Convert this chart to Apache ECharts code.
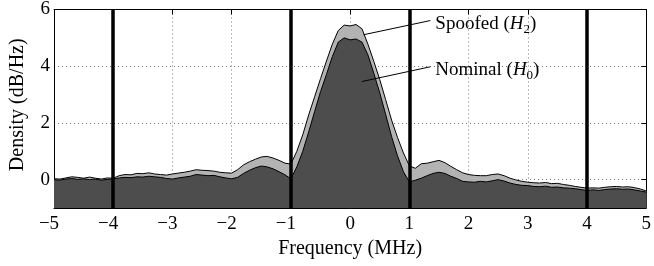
<!DOCTYPE html>
<html>
<head>
<meta charset="utf-8">
<script src="https://cdn.jsdelivr.net/npm/echarts@6/dist/echarts.min.js"></script>
<style>
html, body { margin: 0; padding: 0; background: #fff; }
#chart { width: 654px; height: 266px; }
</style>
</head>
<body>
<div id="chart"></div>
<script>
// frequency grid (MHz)
var freq = [
    -5.0, -4.9, -4.8, -4.7, -4.6, -4.5, -4.4, -4.3, -4.2, -4.1,
    -4.0, -3.9, -3.8, -3.7, -3.6, -3.5, -3.4, -3.3, -3.2, -3.1,
    -3.0, -2.9, -2.8, -2.7, -2.6, -2.5, -2.4, -2.3, -2.2, -2.1,
    -2.0, -1.9, -1.8, -1.7, -1.6, -1.5, -1.4, -1.3, -1.2, -1.1,
    -1.0, -0.9, -0.8, -0.7, -0.6, -0.5, -0.4, -0.3, -0.2, -0.1,
    0.0, 0.1, 0.2, 0.3, 0.4, 0.5, 0.6, 0.7, 0.8, 0.9,
    1.0, 1.1, 1.2, 1.3, 1.4, 1.5, 1.6, 1.7, 1.8, 1.9,
    2.0, 2.1, 2.2, 2.3, 2.4, 2.5, 2.6, 2.7, 2.8, 2.9,
    3.0, 3.1, 3.2, 3.3, 3.4, 3.5, 3.6, 3.7, 3.8, 3.9,
    4.0, 4.1, 4.2, 4.3, 4.4, 4.5, 4.6, 4.7, 4.8, 4.9,
    5.0
];

// Nominal (H0) density, dB/Hz
var nominal = [
    0.00, -0.02, 0.02, 0.04, 0.01, 0.03, 0.00, 0.02, -0.02, 0.01,
    0.02, 0.06, 0.08, 0.07, 0.10, 0.09, 0.12, 0.10, 0.08, 0.04,
    0.02, 0.06, 0.09, 0.12, 0.18, 0.16, 0.14, 0.15, 0.10, 0.06,
    0.03, 0.08, 0.22, 0.33, 0.42, 0.48, 0.45, 0.38, 0.28, 0.17,
    0.03, 0.45, 1.00, 1.68, 2.40, 3.10, 3.71, 4.34, 4.85, 5.00,
    4.93, 4.96, 4.85, 4.40, 3.75, 3.06, 2.30, 1.52, 0.84, 0.28,
    -0.08, -0.02, 0.05, 0.14, 0.22, 0.26, 0.22, 0.12, 0.04, -0.06,
    -0.08, -0.09, -0.06, -0.08, -0.04, 0.00, -0.05, -0.12, -0.17, -0.20,
    -0.21, -0.24, -0.25, -0.23, -0.27, -0.26, -0.29, -0.30, -0.32, -0.35,
    -0.38, -0.36, -0.38, -0.35, -0.33, -0.32, -0.34, -0.33, -0.36, -0.40,
    -0.44
];

// Spoofed (H2) density, dB/Hz
var spoofed = [
    0.03, 0.02, 0.06, 0.10, 0.08, 0.05, 0.09, 0.05, 0.02, 0.06,
    0.05, 0.14, 0.18, 0.17, 0.22, 0.21, 0.24, 0.20, 0.18, 0.16,
    0.20, 0.23, 0.26, 0.30, 0.35, 0.33, 0.32, 0.30, 0.26, 0.24,
    0.23, 0.35, 0.52, 0.63, 0.72, 0.80, 0.82, 0.76, 0.68, 0.58,
    0.55, 1.00, 1.58, 2.28, 2.92, 3.56, 4.18, 4.78, 5.26, 5.45,
    5.42, 5.47, 5.32, 4.78, 4.17, 3.53, 2.82, 2.10, 1.49, 0.94,
    0.49, 0.40, 0.56, 0.58, 0.63, 0.68, 0.60, 0.47, 0.35, 0.24,
    0.18, 0.15, 0.14, 0.14, 0.18, 0.20, 0.14, 0.05, -0.01, -0.06,
    -0.09, -0.11, -0.12, -0.10, -0.14, -0.13, -0.17, -0.20, -0.24, -0.27,
    -0.30, -0.29, -0.30, -0.27, -0.25, -0.24, -0.26, -0.25, -0.28, -0.33,
    -0.40
];

// band edges (MHz)
var bandEdges = [-4, -1, 1, 4];
var yTicks = [0, 2, 4, 6];

// leader lines for the two annotations: [start, end] in data units
var spoofedLeader = [[0.227, 5.11], [1.354, 5.61]];
var nominalLeader = [[0.20, 3.46], [1.354, 3.98]];

var serif = 'Liberation Serif';
var fontSize = 19;

function pairs(xs, ys) {
    var out = [];
    for (var i = 0; i < xs.length; i++) {
        out.push([xs[i], ys[i]]);
    }
    return out;
}

var richText = {
    t: { fontFamily: serif, fontSize: fontSize, color: '#000', lineHeight: 24 },
    i: { fontFamily: serif, fontSize: fontSize, fontStyle: 'italic', color: '#000', lineHeight: 24 },
    s: { fontFamily: serif, fontSize: 13, color: '#000', verticalAlign: 'bottom', lineHeight: 24 }
};

// thin black leader line with its text at the end
function leaderSeries(name, points, text) {
    return {
        name: name,
        type: 'line',
        data: points,
        symbol: 'none',
        silent: true,
        lineStyle: { color: '#000', width: 1 },
        endLabel: {
            show: true,
            distance: 5,
            padding: [7, 0, 0, 0],
            formatter: text,
            rich: richText
        },
        z: 5
    };
}

var markData = [];
for (var k = 0; k < bandEdges.length; k++) {
    markData.push({ xAxis: bandEdges[k] });
}

var myChart = echarts.init(document.getElementById('chart'));

var option = {
    animation: false,
    backgroundColor: '#fff',
    grid: { left: 46, right: 1, top: 7, bottom: 58 },
    xAxis: [{
        type: 'value',
        min: -5,
        max: 5,
        interval: 1,
        name: 'Frequency (MHz)',
        nameLocation: 'middle',
        nameGap: 31,
        nameTextStyle: { fontFamily: serif, fontSize: 20, color: '#000' },
        axisLine: { onZero: false, lineStyle: { color: '#000', width: 1 } },
        axisTick: { inside: true, length: 5, lineStyle: { color: '#000' } },
        axisLabel: {
            margin: 7,
            color: '#000',
            fontFamily: serif,
            fontSize: fontSize,
            formatter: function (v) {
                if (v < 0) {
                    return '{neg|\u2212' + (-v) + '}';
                }
                return String(v);
            },
            rich: {
                neg: { fontFamily: serif, fontSize: fontSize, color: '#000', padding: [0, 10, 0, 0] }
            }
        },
        splitLine: { show: true, lineStyle: { color: '#777', width: 1, type: [1, 3] } }
    }, {
        type: 'value',
        position: 'top',
        min: -5,
        max: 5,
        interval: 1,
        axisLine: { onZero: false, lineStyle: { color: '#000', width: 1 } },
        axisTick: { inside: true, length: 5, lineStyle: { color: '#000' } },
        axisLabel: { show: false },
        splitLine: { show: false }
    }],
    yAxis: [{
        type: 'value',
        min: -1,
        max: 6,
        interval: 1,
        name: 'Density (dB/Hz)',
        nameLocation: 'middle',
        nameGap: 26,
        nameTextStyle: { fontFamily: serif, fontSize: 20, color: '#000', padding: [0, 0, 0, 8] },
        axisLine: { show: true, onZero: false, lineStyle: { color: '#000', width: 1 } },
        axisTick: { show: false },
        axisLabel: {
            margin: 4,
            color: '#000',
            fontFamily: serif,
            fontSize: fontSize,
            formatter: function (v) {
                return (v >= 0 && v % 2 === 0) ? String(v) : '';
            }
        },
        // lines at -1..6; only the even ones are drawn
        splitLine: {
            show: true,
            lineStyle: { color: ['rgba(0,0,0,0)', '#777'], width: 1, type: [1, 3] }
        }
    }, {
        type: 'value',
        position: 'right',
        min: -1,
        max: 6,
        interval: 1,
        axisLine: { show: true, onZero: false, lineStyle: { color: '#000', width: 1 } },
        axisTick: { show: true, inside: true, length: 5, customValues: yTicks, lineStyle: { color: '#000' } },
        axisLabel: { show: false },
        splitLine: { show: false }
    }],
    series: [{
        name: 'Spoofed',
        type: 'line',
        symbol: 'none',
        data: pairs(freq, spoofed),
        lineStyle: { color: '#000', width: 1 },
        areaStyle: { color: '#b3b3b3', opacity: 1, origin: 'start' },
        z: 2
    }, {
        name: 'Nominal',
        type: 'line',
        symbol: 'none',
        data: pairs(freq, nominal),
        lineStyle: { color: '#000', width: 1 },
        areaStyle: { color: '#4d4d4d', opacity: 1, origin: 'start' },
        markLine: {
            silent: true,
            symbol: 'none',
            animation: false,
            label: { show: false },
            lineStyle: { color: '#000', width: 3.5, type: 'solid' },
            data: markData
        },
        z: 3
    },
    leaderSeries('spoofedLabel', spoofedLeader, '{t|Spoofed (}{i|H}{s|2}{t|)}'),
    leaderSeries('nominalLabel', nominalLeader, '{t|Nominal (}{i|H}{s|0}{t|)}')
    ]
};

myChart.setOption(option);
</script>
</body>
</html>
